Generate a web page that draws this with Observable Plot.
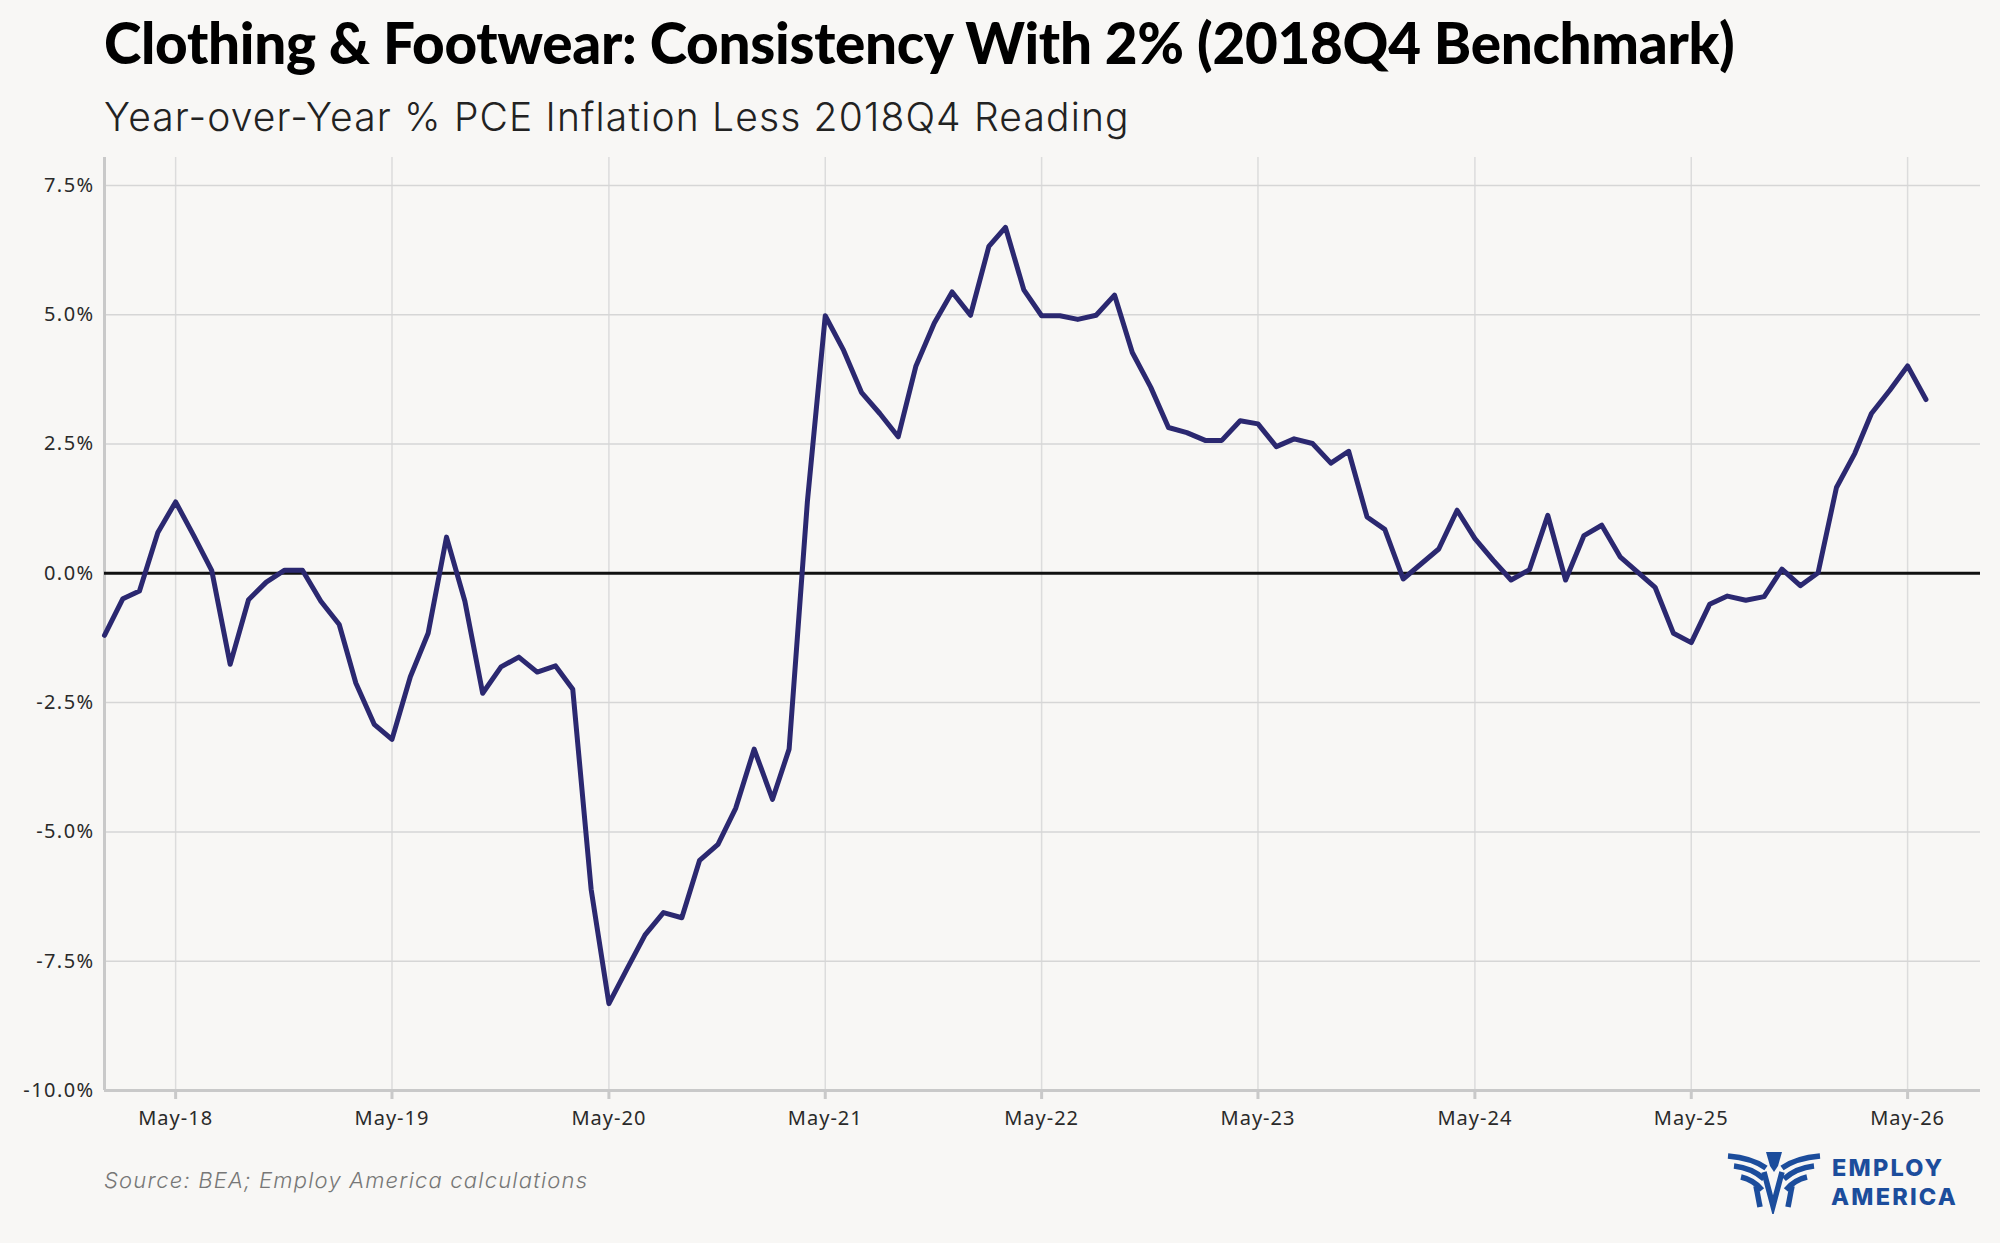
<!DOCTYPE html>
<html>
<head>
<meta charset="utf-8">
<script src="https://cdn.jsdelivr.net/npm/d3@7"></script>
<script src="https://cdn.jsdelivr.net/npm/@observablehq/plot@0.6"></script>
<style>
  html, body { margin: 0; padding: 0; background: #f8f7f5; }
  #page { position: relative; width: 2000px; height: 1243px; background: #f8f7f5; overflow: hidden; }
  #title { position: absolute; left: 104px; top: 8px; font-family: Lato, sans-serif; font-weight: 900; font-size: 56.6px; color: #000; white-space: nowrap; letter-spacing: -0.3px; }
  #subtitle { position: absolute; left: 104px; top: 93px; font-family: Inter, sans-serif; font-weight: 300; font-size: 39px; letter-spacing: 1.15px; color: #222; white-space: nowrap; }
  #chart { position: absolute; left: 0; top: 140px; }
  #chart svg g[aria-label="x-axis tick label"] text { letter-spacing: 1px; }
  #chart svg g[aria-label="y-axis tick label"] text { letter-spacing: 1.4px; }
  #source { position: absolute; left: 104px; top: 1167px; font-family: Inter, sans-serif; font-style: italic; font-weight: 300; font-size: 22px; letter-spacing: 1.2px; color: #777; white-space: nowrap; }
  #logo { position: absolute; left: 1726px; top: 1150px; }
</style>
</head>
<body>
<div id="page">
  <div id="title">Clothing &amp; Footwear: Consistency With 2% (2018Q4 Benchmark)</div>
  <div id="subtitle">Year-over-Year % PCE Inflation Less 2018Q4 Reading</div>
  <div id="chart"></div>
  <div id="source">Source: BEA; Employ America calculations</div>
  <div id="logo">
    <svg width="260" height="64" viewBox="0 0 260 64">
      <g fill="none" stroke="#1c4d9c" stroke-width="5.5" stroke-linecap="butt">
        <path d="M2,6 Q26,8 40,18"/>
        <path d="M8,16 Q26,18 38,29"/>
        <path d="M15,27 Q28,30 36,40"/>
        <path d="M94,6 Q70,8 56,18"/>
        <path d="M88,16 Q70,18 58,29"/>
        <path d="M81,27 Q68,30 60,40"/>
        <path d="M38,22 L47,56 L56,22"/>
        <path d="M30,36 L34,57"/>
        <path d="M66,36 L62,57"/>
      </g>
      <path d="M40,2 L56,2 L52,16 L48,22 L44,16 Z" fill="#1c4d9c"/>
      <text x="106" y="26" font-family="Inter, sans-serif" font-weight="800" font-size="23.5" letter-spacing="2.2" fill="#1c4d9c">EMPLOY</text>
      <text x="105" y="55" font-family="Inter, sans-serif" font-weight="800" font-size="23.5" letter-spacing="2.2" fill="#1c4d9c">AMERICA</text>
    </svg>
  </div>
</div>
<script>
// Monthly values (percentage points), Jan–Dec of each year
const values2018 = [-1.20, -0.49, -0.34, 0.79, 1.38, 0.72, 0.05, -1.76, -0.51, -0.17, 0.06, 0.06];
const values2019 = [-0.54, -0.99, -2.12, -2.92, -3.21, -2.00, -1.16, 0.70, -0.54, -2.32, -1.81, -1.62];
const values2020 = [-1.91, -1.79, -2.24, -6.11, -8.32, -7.64, -6.99, -6.56, -6.66, -5.55, -5.24, -4.54];
const values2021 = [-3.40, -4.37, -3.40, 1.41, 4.98, 4.31, 3.50, 3.09, 2.64, 4.01, 4.84, 5.44];
const values2022 = [4.99, 6.32, 6.69, 5.48, 4.98, 4.98, 4.91, 4.99, 5.38, 4.27, 3.60, 2.82];
const values2023 = [2.72, 2.57, 2.57, 2.95, 2.89, 2.45, 2.60, 2.51, 2.13, 2.36, 1.09, 0.85];
const values2024 = [-0.11, 0.19, 0.47, 1.22, 0.67, 0.25, -0.13, 0.07, 1.12, -0.13, 0.73, 0.93];
const values2025 = [0.32, 0.01, -0.27, -1.16, -1.34, -0.60, -0.44, -0.52, -0.45, 0.08, -0.24, 0.01];
const values2026 = [1.66, 2.32, 3.09, 3.54, 4.01, 3.36];

const years = [2018, 2019, 2020, 2021, 2022, 2023, 2024, 2025, 2026];
const yearValues = [values2018, values2019, values2020, values2021, values2022, values2023, values2024, values2025, values2026];

const xTickLabels = ["May-18", "May-19", "May-20", "May-21", "May-22", "May-23", "May-24", "May-25", "May-26"];
const yTicks = [-10, -7.5, -5, -2.5, 0, 2.5, 5, 7.5];

const data = [];
years.forEach((yr, i) => {
  yearValues[i].forEach((v, m) => data.push({date: new Date(Date.UTC(yr, m, 1)), value: v}));
});
const tickDates = years.map(yr => new Date(Date.UTC(yr, 4, 1)));
const xDomain = [new Date(Date.UTC(2018, 0, 1)), new Date(Date.UTC(2026, 8, 1))];
const yDomain = [-10, 8.04];

const chart = Plot.plot({
  width: 2000,
  height: 1000,
  marginLeft: 104,
  marginRight: 20,
  marginTop: 17,
  marginBottom: 50,
  style: {background: "transparent", fontFamily: "'Noto Sans', sans-serif", fontSize: "20px", color: "#333", overflow: "visible"},
  x: {type: "utc", domain: xDomain, label: null},
  y: {domain: yDomain, label: null},
  marks: [
    Plot.gridX(tickDates, {stroke: "#dcdcdc", strokeOpacity: 1, strokeWidth: 1.5}),
    Plot.gridY(yTicks, {stroke: "#d6d6d6", strokeOpacity: 1, strokeWidth: 1.5}),
    Plot.ruleX([xDomain[0]], {stroke: "#c9c9c9", strokeWidth: 3}),
    Plot.ruleY([-10], {stroke: "#c9c9c9", strokeWidth: 3}),
    Plot.axisX(tickDates, {tickSize: 9, tickPadding: 11, stroke: "#c9c9c9", strokeWidth: 3,
      tickFormat: (d, i) => xTickLabels[i], fill: "#2a2a2a", fontSize: 20, label: null}),
    Plot.axisY(yTicks, {tickSize: 0, tickPadding: 10, tickFormat: d => d.toFixed(1) + "%",
      fill: "#2a2a2a", fontSize: 20, label: null}),
    Plot.ruleY([0], {stroke: "#111", strokeWidth: 3}),
    Plot.line(data, {x: "date", y: "value", stroke: "#2b2870", strokeWidth: 5, strokeLinejoin: "round"})
  ]
});
document.getElementById("chart").appendChild(chart);
</script>
</body>
</html>
